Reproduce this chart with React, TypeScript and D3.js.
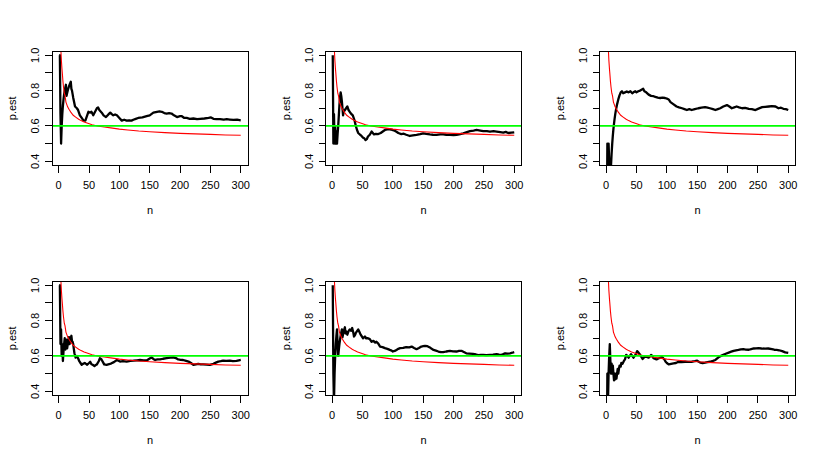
import React from "react";
import * as d3 from "d3";

// ---- data ----
const xTicks = [0, 50, 100, 150, 200, 250, 300];
const yTicks = [0.4, 0.5, 0.6, 0.7, 0.8, 0.9, 1.0];
const yTickLabels = ["0.4", "0.6", "0.8", "1.0"];
const pTrue = 0.6;

// red reference curve (same in all panels)
const redCurve: [number, number][] = [
  [2, 1.2], [3, 1.08], [3.8, 1.02], [4.5, 0.97], [5.4, 0.925], [6, 0.9], [7, 0.855], [8, 0.82], [9.3, 0.785],
  [10.5, 0.77], [12, 0.735], [14.8, 0.708], [17, 0.694], [20, 0.678], [24, 0.66], [28, 0.65], [33, 0.638],
  [37, 0.63], [42, 0.622], [48, 0.615], [55, 0.607], [64, 0.6], [75, 0.594], [86, 0.589], [100, 0.582],
  [114, 0.577], [132, 0.571], [150, 0.567], [175, 0.562], [200, 0.558], [225, 0.555], [250, 0.552],
  [275, 0.549], [300, 0.547],
];

const run1: [number, number][] = [
  [1, 1], [2, 1], [3, 0.667], [4, 0.5], [5, 0.6], [6, 0.667], [7, 0.714], [8, 0.75], [9, 0.778], [10, 0.8],
  [11, 0.818], [12, 0.833], [13, 0.77], [14, 0.786], [15, 0.8], [16, 0.813], [17, 0.824], [18, 0.833],
  [19, 0.842], [20, 0.85], [21, 0.81], [22, 0.8], [24, 0.76], [27, 0.71], [30, 0.7], [32, 0.69], [35, 0.66],
  [38, 0.645], [41, 0.63], [44, 0.63], [47, 0.66], [49, 0.68], [52, 0.675], [54, 0.68], [57, 0.66],
  [60, 0.68], [63, 0.7], [65, 0.705], [67, 0.69], [71, 0.675], [74, 0.66], [78, 0.65], [82, 0.665],
  [85, 0.675], [88, 0.665], [90, 0.66], [93, 0.665], [96, 0.66], [100, 0.645], [104, 0.63], [108, 0.635],
  [112, 0.63], [116, 0.632], [120, 0.63], [123, 0.635], [127, 0.64], [131, 0.645], [138, 0.648],
  [145, 0.655], [150, 0.66], [156, 0.675], [162, 0.68], [166, 0.682], [170, 0.68], [174, 0.673],
  [178, 0.67], [182, 0.672], [186, 0.67], [190, 0.66], [195, 0.65], [200, 0.655], [203, 0.655],
  [207, 0.645], [211, 0.645], [216, 0.64], [222, 0.642], [228, 0.638], [233, 0.64], [240, 0.642],
  [247, 0.645], [251, 0.648], [255, 0.64], [260, 0.638], [266, 0.638], [272, 0.636], [277, 0.638],
  [282, 0.636], [288, 0.634], [294, 0.635], [300, 0.632],
];

const run2: [number, number][] = [
  [1, 1], [2, 0.5], [3, 0.667], [4, 0.5], [5, 0.6], [6, 0.5], [7, 0.571], [8, 0.5], [9, 0.556], [10, 0.6],
  [11, 0.66], [12, 0.72], [13, 0.76], [14, 0.79], [15, 0.77], [16, 0.74], [17, 0.7], [18, 0.66], [19, 0.68],
  [21, 0.69], [23, 0.7], [25, 0.71], [27, 0.69], [29, 0.68], [31, 0.67], [34, 0.66], [37, 0.63], [39, 0.6],
  [41, 0.577], [43, 0.56], [46, 0.55], [48, 0.545], [51, 0.533], [53, 0.53], [55, 0.52], [57, 0.525],
  [59, 0.54], [62, 0.55], [65, 0.568], [67, 0.56], [69, 0.552], [72, 0.555], [76, 0.554], [80, 0.56],
  [84, 0.57], [87, 0.577], [91, 0.58], [95, 0.58], [99, 0.578], [103, 0.573], [106, 0.567], [109, 0.56],
  [114, 0.554], [118, 0.556], [122, 0.55], [128, 0.543], [133, 0.546], [139, 0.549], [145, 0.553],
  [150, 0.558], [155, 0.555], [161, 0.552], [166, 0.55], [172, 0.549], [178, 0.552], [183, 0.552],
  [188, 0.55], [194, 0.549], [200, 0.548], [205, 0.549], [211, 0.553], [216, 0.558], [222, 0.565],
  [227, 0.571], [233, 0.574], [238, 0.577], [244, 0.574], [249, 0.571], [255, 0.57], [260, 0.568],
  [266, 0.57], [271, 0.568], [277, 0.565], [282, 0.562], [286, 0.566], [290, 0.56], [295, 0.562],
  [300, 0.564],
];

const run3: [number, number][] = [
  [1, 0], [2, 0.5], [3, 0.333], [4, 0.5], [5, 0.4], [6, 0.333], [7, 0.286], [8, 0.375], [9, 0.444],
  [10, 0.5], [11, 0.545], [12, 0.583], [13, 0.615], [14, 0.643], [15, 0.667], [16, 0.688], [17, 0.706],
  [18, 0.722], [20, 0.75], [22, 0.773], [24, 0.79], [26, 0.796], [28, 0.785], [31, 0.79], [34, 0.795],
  [37, 0.79], [40, 0.796], [43, 0.785], [45, 0.79], [48, 0.796], [50, 0.79], [53, 0.796], [56, 0.8],
  [59, 0.806], [61, 0.81], [63, 0.796], [66, 0.79], [70, 0.777], [74, 0.77], [78, 0.768], [81, 0.764],
  [85, 0.76], [89, 0.758], [93, 0.76], [97, 0.758], [100, 0.755], [103, 0.75], [106, 0.735], [110, 0.725],
  [116, 0.71], [120, 0.705], [125, 0.7], [129, 0.695], [133, 0.69], [137, 0.695], [141, 0.69], [146, 0.695],
  [152, 0.7], [157, 0.703], [163, 0.706], [167, 0.703], [171, 0.7], [176, 0.695], [180, 0.69], [184, 0.695],
  [188, 0.7], [193, 0.71], [199, 0.718], [203, 0.71], [207, 0.7], [211, 0.705], [215, 0.71], [219, 0.705],
  [224, 0.7], [229, 0.702], [235, 0.697], [240, 0.695], [246, 0.69], [251, 0.698], [257, 0.706],
  [262, 0.708], [268, 0.71], [273, 0.712], [279, 0.71], [284, 0.7], [288, 0.703], [292, 0.697],
  [296, 0.695], [300, 0.69],
];

const run4: [number, number][] = [
  [1, 1], [2, 1], [3, 0.667], [4, 0.75], [5, 0.6], [6, 0.667], [7, 0.571], [8, 0.625], [9, 0.667],
  [10, 0.7], [11, 0.636], [12, 0.667], [13, 0.692], [14, 0.643], [15, 0.667], [16, 0.688], [17, 0.706],
  [18, 0.667], [19, 0.684], [20, 0.7], [21, 0.714], [22, 0.682], [23, 0.68], [24, 0.667], [25, 0.64],
  [26, 0.615], [28, 0.59], [30, 0.6], [32, 0.587], [34, 0.57], [36, 0.56], [38, 0.55], [40, 0.555],
  [43, 0.56], [45, 0.555], [47, 0.55], [50, 0.56], [52, 0.567], [54, 0.553], [56, 0.55], [59, 0.543],
  [61, 0.548], [63, 0.552], [66, 0.57], [68, 0.587], [70, 0.583], [71, 0.577], [73, 0.565], [75, 0.552],
  [79, 0.549], [83, 0.553], [87, 0.558], [91, 0.565], [96, 0.577], [101, 0.568], [106, 0.57], [112, 0.568],
  [118, 0.572], [123, 0.573], [129, 0.575], [134, 0.577], [140, 0.575], [145, 0.574], [150, 0.585],
  [153, 0.592], [156, 0.583], [159, 0.577], [163, 0.58], [167, 0.58], [172, 0.584], [178, 0.587],
  [184, 0.59], [189, 0.592], [193, 0.588], [197, 0.58], [201, 0.578], [205, 0.577], [210, 0.572],
  [214, 0.568], [218, 0.56], [222, 0.549], [226, 0.552], [230, 0.555], [234, 0.552], [238, 0.552],
  [244, 0.551], [249, 0.549], [255, 0.555], [259, 0.562], [263, 0.568], [267, 0.57], [271, 0.573],
  [276, 0.572], [282, 0.573], [287, 0.571], [293, 0.572], [297, 0.575], [300, 0.577],
];

const run5: [number, number][] = [
  [1, 1], [2, 0.5], [3, 0.333], [4, 0.5], [5, 0.6], [6, 0.667], [7, 0.714], [8, 0.75], [9, 0.667],
  [10, 0.6], [11, 0.636], [12, 0.667], [13, 0.692], [14, 0.714], [15, 0.733], [16, 0.75], [17, 0.706],
  [18, 0.722], [19, 0.737], [20, 0.75], [21, 0.762], [22, 0.727], [23, 0.739], [25, 0.72], [27, 0.74],
  [29, 0.75], [31, 0.742], [33, 0.758], [35, 0.73], [36, 0.71], [38, 0.72], [39, 0.73], [41, 0.74],
  [43, 0.75], [45, 0.735], [47, 0.72], [49, 0.71], [51, 0.7], [54, 0.71], [56, 0.7], [59, 0.7],
  [62, 0.695], [65, 0.68], [68, 0.685], [71, 0.675], [73, 0.68], [76, 0.67], [79, 0.653], [83, 0.65],
  [87, 0.644], [91, 0.64], [95, 0.634], [98, 0.63], [100, 0.625], [103, 0.628], [106, 0.634], [109, 0.64],
  [112, 0.644], [117, 0.645], [122, 0.65], [127, 0.648], [131, 0.653], [135, 0.645], [139, 0.638],
  [143, 0.645], [147, 0.653], [150, 0.655], [153, 0.657], [157, 0.655], [161, 0.648], [164, 0.64],
  [167, 0.634], [171, 0.63], [175, 0.625], [179, 0.622], [183, 0.621], [188, 0.625], [194, 0.629],
  [199, 0.626], [205, 0.625], [209, 0.628], [213, 0.629], [217, 0.622], [221, 0.615], [226, 0.613],
  [232, 0.611], [237, 0.608], [241, 0.604], [245, 0.606], [249, 0.606], [254, 0.605], [260, 0.606],
  [265, 0.607], [271, 0.61], [275, 0.607], [279, 0.606], [282, 0.61], [285, 0.615], [289, 0.613],
  [293, 0.615], [297, 0.618], [300, 0.621],
];

const run6: [number, number][] = [
  [1, 0], [2, 0.5], [3, 0.333], [4, 0.5], [5, 0.6], [6, 0.667], [7, 0.571], [8, 0.5], [9, 0.556],
  [10, 0.5], [11, 0.545], [12, 0.5], [13, 0.462], [14, 0.5], [15, 0.467], [16, 0.5], [17, 0.471],
  [18, 0.5], [19, 0.526], [20, 0.5], [21, 0.524], [22, 0.545], [24, 0.54], [25, 0.56], [27, 0.556],
  [29, 0.57], [31, 0.58], [33, 0.606], [35, 0.6], [37, 0.59], [39, 0.6], [41, 0.61], [43, 0.6], [45, 0.59],
  [47, 0.6], [49, 0.61], [51, 0.627], [53, 0.62], [55, 0.611], [57, 0.6], [60, 0.583], [62, 0.59],
  [64, 0.596], [67, 0.594], [70, 0.59], [72, 0.597], [74, 0.606], [76, 0.6], [78, 0.587], [81, 0.583],
  [83, 0.58], [86, 0.585], [89, 0.59], [92, 0.593], [94, 0.587], [96, 0.58], [98, 0.567], [100, 0.56],
  [103, 0.552], [107, 0.555], [111, 0.558], [115, 0.56], [119, 0.567], [124, 0.565], [130, 0.567],
  [135, 0.566], [141, 0.567], [146, 0.57], [150, 0.573], [155, 0.562], [159, 0.56], [163, 0.562],
  [167, 0.565], [171, 0.567], [176, 0.572], [180, 0.577], [185, 0.592], [189, 0.6], [193, 0.606],
  [197, 0.612], [202, 0.619], [206, 0.624], [210, 0.629], [214, 0.632], [218, 0.634], [222, 0.637],
  [226, 0.638], [230, 0.636], [235, 0.635], [239, 0.639], [243, 0.642], [247, 0.643], [251, 0.644],
  [256, 0.642], [262, 0.641], [267, 0.642], [273, 0.638], [277, 0.635], [281, 0.634], [285, 0.632],
  [290, 0.627], [295, 0.62], [300, 0.617],
];

const runs = [run1, run2, run3, run4, run5, run6];

// ---- layout ----
const W = 822;
const H = 460;
const boxLefts = [52, 325.5, 599.5];
const boxTops = [51, 281];
const boxW = 196;
const boxH = 114.5;
const FONT = "'Liberation Sans', Arial, Helvetica, sans-serif";

function Panel({ idx, data }: { idx: number; data: [number, number][] }) {
  const L = boxLefts[idx % 3];
  const T = boxTops[Math.floor(idx / 3)];
  const B = T + boxH;
  const R = L + boxW;
  const x = d3.scaleLinear().domain([1 - 0.04 * 299, 300 + 0.04 * 299]).range([L, R]);
  const y = d3.scaleLinear().domain([0.376, 1.024]).range([B, T]);
  const line = d3
    .line<[number, number]>()
    .x((d) => x(d[0]))
    .y((d) => y(d[1]));
  const clipId = `clip${idx}`;
  return (
    <g>
      <defs>
        <clipPath id={clipId}>
          <rect x={L} y={T} width={boxW} height={boxH} />
        </clipPath>
      </defs>
      <g clipPath={`url(#${clipId})`}>
        <path d={line(data) || ""} fill="none" stroke="#000" strokeWidth={2.3} strokeLinejoin="round" />
        <path d={line(redCurve) || ""} fill="none" stroke="#ff0000" strokeWidth={1.1} />
        <line x1={L} x2={R} y1={y(pTrue)} y2={y(pTrue)} stroke="#00ff00" strokeWidth={1.8} />
      </g>
      <rect x={L} y={T} width={boxW} height={boxH} fill="none" stroke="#000" strokeWidth={1} shapeRendering="crispEdges" />
      {/* x axis */}
      <line x1={x(xTicks[0])} x2={x(xTicks[xTicks.length - 1])} y1={B} y2={B} stroke="#000" shapeRendering="crispEdges" />
      {xTicks.map((t) => (
        <g key={`x${t}`}>
          <line x1={x(t)} x2={x(t)} y1={B} y2={B + 7} stroke="#000" shapeRendering="crispEdges" />
          <text x={x(t)} y={B + 23.5} textAnchor="middle" fontSize={11} fontFamily={FONT} fill="#000">
            {t}
          </text>
        </g>
      ))}
      {/* y axis */}
      {yTicks.map((t) => (
        <line key={`y${t}`} x1={L - 7} x2={L} y1={y(t)} y2={y(t)} stroke="#000" shapeRendering="crispEdges" />
      ))}
      {yTickLabels.map((s) => (
        <text
          key={`yl${s}`}
          transform={`translate(${L - 13},${y(+s)}) rotate(-90)`}
          textAnchor="middle"
          fontSize={11}
          fontFamily={FONT}
          fill="#000"
        >
          {s}
        </text>
      ))}
      <text x={(L + R) / 2} y={B + 48} textAnchor="middle" fontSize={11} fontFamily={FONT} fill="#000">
        n
      </text>
      <text
        transform={`translate(${L - 36},${(T + B) / 2}) rotate(-90)`}
        textAnchor="middle"
        fontSize={11}
        fontFamily={FONT}
        fill="#000"
      >
        p.est
      </text>
    </g>
  );
}

export default function App() {
  return (
    <svg
      width={W}
      height={H}
      viewBox={`0 0 ${W} ${H}`}
      style={{ position: "absolute", left: 0, top: 0, background: "#fff" }}
    >
      <rect x={0} y={0} width={W} height={H} fill="#fff" />
      {runs.map((r, i) => (
        <Panel key={i} idx={i} data={r} />
      ))}
    </svg>
  );
}
